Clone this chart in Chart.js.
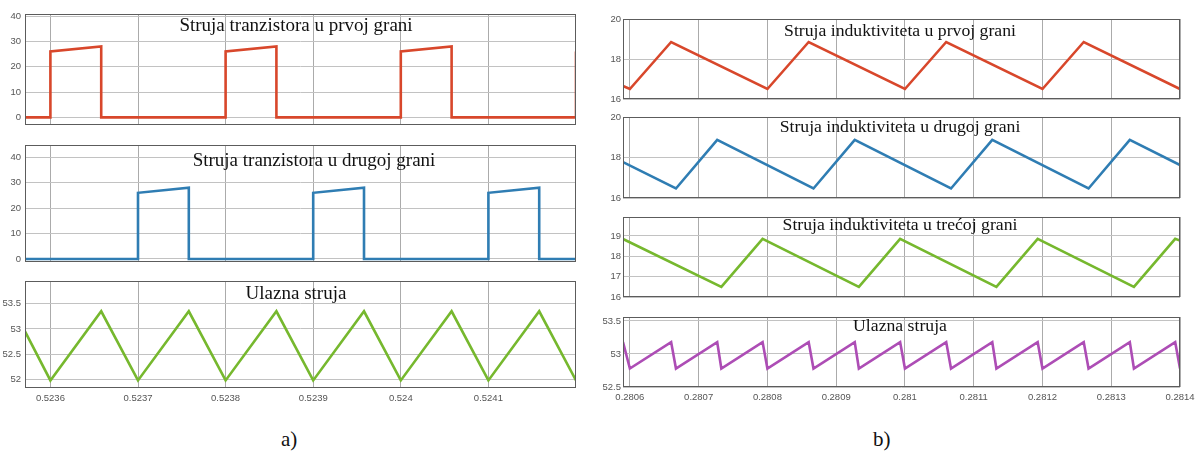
<!DOCTYPE html>
<html>
<head>
<meta charset="utf-8">
<script src="https://cdn.jsdelivr.net/npm/chart.js@4.4.0/dist/chart.umd.min.js"></script>
<style>
  html, body { margin: 0; padding: 0; background: #fff; }
  #wrap { position: relative; width: 1195px; height: 461px; overflow: hidden; background: #fff; }
  #wrap canvas { position: absolute; }
  .cap { position: absolute; font-family: 'Liberation Serif', 'Times New Roman', serif; font-size: 21px; color: #111; line-height: 24px; }
</style>
</head>
<body>
<div id="wrap">
  <canvas id="l1"></canvas>
  <canvas id="l2"></canvas>
  <canvas id="l3"></canvas>
  <canvas id="r1"></canvas>
  <canvas id="r2"></canvas>
  <canvas id="r3"></canvas>
  <canvas id="r4"></canvas>
  <div class="cap" style="left:281px;top:427px">a)</div>
  <div class="cap" style="left:873px;top:427px">b)</div>
</div>
<script>
// ---- a) lijevi dio ----
const vrijemeA = [0.523571, 0.5242];
const tickoviA = [0.5236, 0.5237, 0.5238, 0.5239, 0.524, 0.5241];
const oznakeA = ['0.5236', '0.5237', '0.5238', '0.5239', '0.524', '0.5241'];

const tranzistor1X = [0.523571, 0.5236, 0.5236, 0.523658, 0.523658, 0.5238, 0.5238, 0.523858, 0.523858, 0.524, 0.524, 0.524058, 0.524058, 0.5242, 0.5242];
const tranzistor1Y = [0, 0, 26, 28, 0, 0, 26, 28, 0, 0, 26, 28, 0, 0, 26];

const tranzistor2X = [0.523571, 0.5237, 0.5237, 0.523758, 0.523758, 0.5239, 0.5239, 0.523958, 0.523958, 0.5241, 0.5241, 0.524158, 0.524158, 0.5242];
const tranzistor2Y = [0, 0, 26, 28, 0, 0, 26, 28, 0, 0, 26, 28, 0, 0];

const ulaznaAX = [0.523571, 0.5236, 0.523658, 0.5237, 0.523758, 0.5238, 0.523858, 0.5239, 0.523958, 0.524, 0.524058, 0.5241, 0.524158, 0.5242];
const ulaznaAY = [52.95, 51.98, 53.35, 51.98, 53.35, 51.98, 53.35, 51.98, 53.35, 51.98, 53.35, 51.98, 53.35, 51.98];

const tranzistorTickovi = [0, 10, 20, 30, 40];
const ulaznaATickovi = [52, 52.5, 53, 53.5];

// ---- b) desni dio ----
const vrijemeB = [0.28059, 0.2814];
const tickoviB = [0.2806, 0.2807, 0.2808, 0.2809, 0.281, 0.2811, 0.2812, 0.2813, 0.2814];
const oznakeB = ['0.2806', '0.2807', '0.2808', '0.2809', '0.281', '0.2811', '0.2812', '0.2813', '0.2814'];

const induktivitet1X = [0.28059, 0.2806, 0.28066, 0.2808, 0.28086, 0.281, 0.28106, 0.2812, 0.28126, 0.2814];
const induktivitet1Y = [16.65, 16.5, 18.85, 16.5, 18.85, 16.5, 18.85, 16.5, 18.85, 16.5];

const induktivitet2X = [0.28059, 0.280667, 0.280727, 0.280867, 0.280927, 0.281067, 0.281127, 0.281267, 0.281327, 0.2814];
const induktivitet2Y = [17.77, 16.47, 18.87, 16.47, 18.87, 16.47, 18.87, 16.47, 18.87, 17.63];

const induktivitet3X = [0.28059, 0.280733, 0.280793, 0.280933, 0.280993, 0.281133, 0.281193, 0.281333, 0.281393, 0.2814];
const induktivitet3Y = [18.85, 16.5, 18.86, 16.5, 18.86, 16.5, 18.86, 16.5, 18.86, 18.77];

const ulaznaBX = [0.28059, 0.2806, 0.28066, 0.280667, 0.280727, 0.280733, 0.280793, 0.2808, 0.28086, 0.280867, 0.280927, 0.280933, 0.280993, 0.281, 0.28106, 0.281067, 0.281127, 0.281133, 0.281193, 0.2812, 0.28126, 0.281267, 0.281327, 0.281333, 0.281393, 0.2814];
const ulaznaBY = [53.18, 52.78, 53.18, 52.78, 53.18, 52.78, 53.18, 52.78, 53.18, 52.78, 53.18, 52.78, 53.18, 52.78, 53.18, 52.78, 53.18, 52.78, 53.18, 52.78, 53.18, 52.78, 53.18, 52.78, 53.18, 52.78];

const ind12Tickovi = [16, 18, 20];
const ind3Tickovi = [16, 17, 18, 19];
const ulaznaBTickovi = [52.5, 53, 53.5];

const fontTick = { family: "'Liberation Sans', Arial, sans-serif", size: 9.5 };
const bojaTick = '#555';

// okvir i naslov (MATLAB izgled)
const okvirPlugin = {
  id: 'okvir',
  afterDatasetsDraw(chart) {
    const a = chart.chartArea, c = chart.ctx, p = chart.options.plugins.okvir;
    c.save();
    c.strokeStyle = '#5c5c5c';
    c.lineWidth = 1;
    c.strokeRect(Math.round(a.left) + 0.5, Math.round(a.top) + 0.5, Math.round(a.right - a.left) - 1, Math.round(a.bottom - a.top) - 1);
    c.font = p.font;
    c.fillStyle = '#111';
    c.textAlign = 'center';
    c.textBaseline = 'alphabetic';
    c.fillText(p.naslov, p.tx - p.lijevo, p.ty - p.gore);
    c.restore();
  }
};

function napraviPanel(id, k) {
  const padTop = 8, padRight = 16;
  const xH = k.xOznake ? 22 : 3;
  const w = k.x1 - k.x0 + k.yW + padRight;
  const h = k.y1 - k.y0 + padTop + xH;
  const lijevo = k.x0 - k.yW, gore = k.y0 - padTop;
  const canvas = document.getElementById(id);
  canvas.width = w; canvas.height = h;
  canvas.style.left = lijevo + 'px';
  canvas.style.top = gore + 'px';
  canvas.style.width = w + 'px';
  canvas.style.height = h + 'px';

  new Chart(canvas, {
    type: 'line',
    data: {
      datasets: [{
        data: k.x.map((v, i) => ({ x: v, y: k.y[i] })),
        borderColor: k.boja,
        borderWidth: 2.6,
        pointRadius: 0,
        tension: 0,
        fill: false
      }]
    },
    options: {
      responsive: false,
      animation: false,
      devicePixelRatio: 1,
      layout: { padding: { top: padTop, right: padRight, left: 0, bottom: 0 } },
      plugins: {
        legend: { display: false },
        tooltip: { enabled: false },
        okvir: { naslov: k.naslov, font: k.font, tx: k.tx, ty: k.ty, lijevo: lijevo, gore: gore }
      },
      scales: {
        x: {
          type: 'linear',
          min: k.xOpseg[0], max: k.xOpseg[1],
          afterBuildTicks: s => { s.ticks = k.xTick.map(v => ({ value: v })); },
          afterFit: s => { s.height = xH; s.paddingLeft = 0; s.paddingRight = 0; },
          ticks: { display: k.xOznake, callback: (v, i) => k.xLab[i], maxRotation: 0, autoSkip: false, padding: 5, font: fontTick, color: bojaTick },
          grid: { color: '#ababab', drawTicks: false },
          border: { display: false }
        },
        y: {
          min: k.yOpseg[0], max: k.yOpseg[1],
          afterBuildTicks: s => { s.ticks = k.yTick.map(v => ({ value: v })); },
          afterFit: s => { s.width = k.yW; s.paddingTop = 0; s.paddingBottom = 0; },
          ticks: { callback: v => String(v), autoSkip: false, padding: k.yPad, font: fontTick, color: bojaTick },
          grid: { color: '#c2c2c2', drawTicks: false },
          border: { display: false }
        }
      }
    },
    plugins: [okvirPlugin]
  });
}

const serifA = "19px 'Liberation Serif', 'Times New Roman', serif";
const serifB = "17.7px 'Liberation Serif', 'Times New Roman', serif";

napraviPanel('l1', { x0: 25, x1: 576, y0: 14, y1: 125, yW: 25, yPad: 4, xOpseg: vrijemeA, xTick: tickoviA, xLab: oznakeA, xOznake: false,
  yOpseg: [-3.0, 40.8], yTick: tranzistorTickovi, x: tranzistor1X, y: tranzistor1Y, boja: '#d8472b',
  naslov: 'Struja tranzistora u prvoj grani', font: serifA, tx: 296, ty: 31 });
napraviPanel('l2', { x0: 25, x1: 576, y0: 145, y1: 262, yW: 25, yPad: 4, xOpseg: vrijemeA, xTick: tickoviA, xLab: oznakeA, xOznake: false,
  yOpseg: [-1.2, 44.8], yTick: tranzistorTickovi, x: tranzistor2X, y: tranzistor2Y, boja: '#2f7db3',
  naslov: 'Struja tranzistora u drugoj grani', font: serifA, tx: 314, ty: 166 });
napraviPanel('l3', { x0: 25, x1: 576, y0: 281, y1: 388, yW: 25, yPad: 4, xOpseg: vrijemeA, xTick: tickoviA, xLab: oznakeA, xOznake: true,
  yOpseg: [51.83, 53.95], yTick: ulaznaATickovi, x: ulaznaAX, y: ulaznaAY, boja: '#76b82e',
  naslov: 'Ulazna struja', font: serifA, tx: 296, ty: 299 });

napraviPanel('r1', { x0: 623, x1: 1180, y0: 19, y1: 99, yW: 30, yPad: 2, xOpseg: vrijemeB, xTick: tickoviB, xLab: oznakeB, xOznake: false,
  yOpseg: [16, 20], yTick: ind12Tickovi, x: induktivitet1X, y: induktivitet1Y, boja: '#d8472b',
  naslov: 'Struja induktiviteta u prvoj grani', font: serifB, tx: 900, ty: 36 });
napraviPanel('r2', { x0: 623, x1: 1180, y0: 117, y1: 198, yW: 30, yPad: 2, xOpseg: vrijemeB, xTick: tickoviB, xLab: oznakeB, xOznake: false,
  yOpseg: [16, 20], yTick: ind12Tickovi, x: induktivitet2X, y: induktivitet2Y, boja: '#2f7db3',
  naslov: 'Struja induktiviteta u drugoj grani', font: serifB, tx: 900, ty: 132 });
napraviPanel('r3', { x0: 623, x1: 1180, y0: 217, y1: 297, yW: 30, yPad: 2, xOpseg: vrijemeB, xTick: tickoviB, xLab: oznakeB, xOznake: false,
  yOpseg: [16, 19.93], yTick: ind3Tickovi, x: induktivitet3X, y: induktivitet3Y, boja: '#76b82e',
  naslov: 'Struja induktiviteta u trećoj grani', font: serifB, tx: 900, ty: 230 });
napraviPanel('r4', { x0: 623, x1: 1180, y0: 317, y1: 387, yW: 30, yPad: 2, xOpseg: vrijemeB, xTick: tickoviB, xLab: oznakeB, xOznake: true,
  yOpseg: [52.5, 53.56], yTick: ulaznaBTickovi, x: ulaznaBX, y: ulaznaBY, boja: '#ad4db5',
  naslov: 'Ulazna struja', font: serifB, tx: 900, ty: 331 });
</script>
</body>
</html>
